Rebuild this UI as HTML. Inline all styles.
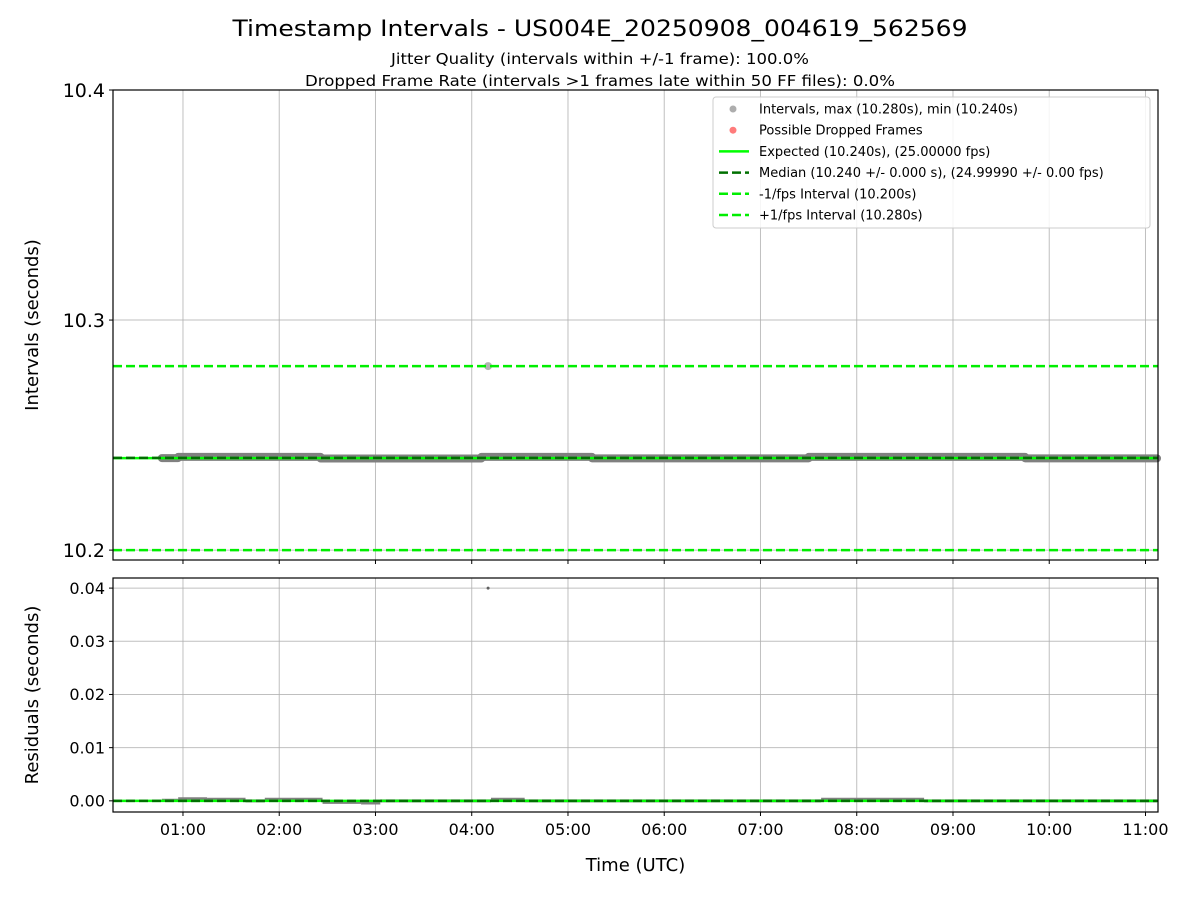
<!DOCTYPE html>
<html><head><meta charset="utf-8"><style>
body{margin:0;background:#fff}
svg{display:block;font-family:"DejaVu Sans","Liberation Sans",sans-serif}
</style></head><body>
<svg id="c" width="1200" height="900" xmlns="http://www.w3.org/2000/svg">
<text x="600" y="36" font-size="22" text-anchor="middle" textLength="735" lengthAdjust="spacingAndGlyphs">Timestamp Intervals - US004E_20250908_004619_562569</text>
<text x="600" y="64" font-size="15" text-anchor="middle" textLength="418" lengthAdjust="spacingAndGlyphs">Jitter Quality (intervals within +/-1 frame): 100.0%</text>
<text x="600" y="86" font-size="15" text-anchor="middle" textLength="590" lengthAdjust="spacingAndGlyphs">Dropped Frame Rate (intervals &gt;1 frames late within 50 FF files): 0.0%</text>
<g id="topg"></g><g id="botg"></g>
</svg>
<script>
// data (hours UTC)
const xTicks = [1,2,3,4,5,6,7,8,9,10,11];
const xTickLabels = ["01:00","02:00","03:00","04:00","05:00","06:00","07:00","08:00","09:00","10:00","11:00"];
const topYTicks = [10.2,10.3,10.4];
const botYTicks = [0,0.01,0.02,0.03,0.04];
const segStart = [0.78,0.95,2.43,4.10,5.25,7.50,9.75];
const segEnd   = [0.95,2.43,4.10,5.25,7.50,9.75,11.12];
const segValue = [10.2400,10.2405,10.2398,10.2405,10.2399,10.2405,10.2399];
const outlierTime = [4.17];
const outlierValue = [10.280];
const resStart = [0.78,0.95,1.25,1.65,1.85,2.45,2.85,3.05,4.20,4.55,7.63,8.70];
const resEnd   = [0.95,1.25,1.65,1.85,2.45,2.85,3.05,4.20,4.55,7.63,8.70,11.12];
const resValue = [0.0001,0.0004,0.0003,0.0000,0.0003,-0.0003,-0.0004,0.0000,0.0003,0.0000,0.0003,0.0000];
const resOutT = [4.17];
const resOutV = [0.040];
const expected = 10.240, median = 10.2401, minusFps = 10.200, plusFps = 10.280;

const NS="http://www.w3.org/2000/svg";
function mk(par,tag,attrs){const e=document.createElementNS(NS,tag);for(const k in attrs)e.setAttribute(k,attrs[k]);par.appendChild(e);return e;}
const X0=113,X1=1158, xmin=0.273, xmax=11.13;
const xs=h=>X0+(h-xmin)/(xmax-xmin)*(X1-X0);
const T={y0:90,y1:560,min:10.1957,max:10.4};
const ysT=v=>T.y1-(v-T.min)/(T.max-T.min)*(T.y1-T.y0);
const B={y0:578,y1:812,min:-0.0021,max:0.0419};
const ysB=v=>B.y1-(v-B.min)/(B.max-B.min)*(B.y1-B.y0);

function panel(g,P,ys,yt,ylabel,fmt,fs,showX,name){
  yt.forEach(v=>{const l=mk(g,'line',{x1:X0,x2:X1,y1:ys(v),y2:ys(v),stroke:'#b0b0b0','stroke-width':1,opacity:0.8});
    
    });
  xTicks.forEach(h=>{const l=mk(g,'line',{x1:xs(h),x2:xs(h),y1:P.y0,y2:P.y1,stroke:'#b0b0b0','stroke-width':1,opacity:0.8});
    
    });
  yt.forEach(v=>{mk(g,'line',{x1:X0-4,x2:X0,y1:ys(v),y2:ys(v),stroke:'#000'});
    const t=mk(g,'text',{x:X0-8,y:ys(v)+fs*0.36,'font-size':fs,'text-anchor':'end'});t.textContent=fmt(v);
    
    });
  xTicks.forEach((h,i)=>{mk(g,'line',{x1:xs(h),x2:xs(h),y1:P.y1,y2:P.y1+4,stroke:'#000'});
    if(showX){const t=mk(g,'text',{x:xs(h),y:P.y1+23,'font-size':16,'text-anchor':'middle'});t.textContent=xTickLabels[i];
    
    }});
  const yl=mk(g,'text',{x:0,y:0,'font-size':18,'text-anchor':'middle',transform:`translate(38,${(P.y0+P.y1)/2}) rotate(-90)`});
  yl.textContent=ylabel;
  
  
}
const topG=document.getElementById('topg'), botG=document.getElementById('botg');
panel(topG,T,ysT,topYTicks,'Intervals (seconds)',v=>v.toFixed(1),19,false,'top');
panel(botG,B,ysB,botYTicks,'Residuals (seconds)',v=>v.toFixed(2),16,true,'bottom');

segStart.forEach((s,i)=>{const l=mk(topG,'line',{x1:xs(s),x2:xs(segEnd[i]),y1:ysT(segValue[i]),y2:ysT(segValue[i]),stroke:'#808080','stroke-width':8,'stroke-linecap':'round'});
  
  });
outlierTime.forEach((t,i)=>{const c=mk(topG,'circle',{cx:xs(t),cy:ysT(outlierValue[i]),r:4,fill:'#808080',opacity:0.6});
  
  });
function hl(g,y,col,dash,w,nm){const l=mk(g,'line',{x1:X0,x2:X1,y1:y,y2:y,stroke:col,'stroke-width':w});if(dash)l.setAttribute('stroke-dasharray',dash);
  
  }
hl(topG,ysT(expected),'#00ff00',null,2.5,'expected-line');
hl(topG,ysT(median),'#007000','9,4',2.5,'median-line');
hl(topG,ysT(minusFps),'#00ee00','9,4',2.5,'minus-fps-line');
hl(topG,ysT(plusFps),'#00ee00','9,4',2.5,'plus-fps-line');
resStart.forEach((s,i)=>{const l=mk(botG,'line',{x1:xs(s),x2:xs(resEnd[i]),y1:ysB(resValue[i]),y2:ysB(resValue[i]),stroke:'#808080','stroke-width':3});
  
  });
resOutT.forEach((t,i)=>{const c=mk(botG,'circle',{cx:xs(t),cy:ysB(resOutV[i]),r:1.5,fill:'#606060'});
  
  });
hl(botG,ysB(0),'#00ff00',null,2.5,'residual-zero-line');
hl(botG,ysB(0),'#007000','9,4',2.5,'residual-median-line');

[[topG,T,'top-frame'],[botG,B,'bottom-frame']].forEach(([g,P,n])=>{const r=mk(g,'rect',{x:X0,y:P.y0,width:X1-X0,height:P.y1-P.y0,fill:'none',stroke:'#000','stroke-width':1.2});
  
  });
const xt=mk(botG,'text',{x:(X0+X1)/2,y:871,'font-size':18,'text-anchor':'middle'});xt.textContent='Time (UTC)';



const lg=mk(topG,'g',{});


mk(lg,'rect',{x:713,y:97,width:437,height:131,rx:3,fill:'#fff','fill-opacity':0.85,stroke:'#ccc'});
const items=[['dot','#999','Intervals, max (10.280s), min (10.240s)'],['dot','#ff5a5a','Possible Dropped Frames'],
 ['line','#00ff00','Expected (10.240s), (25.00000 fps)'],['dash','#007000','Median (10.240 +/- 0.000 s), (24.99990 +/- 0.00 fps)'],
 ['dash','#00ee00','-1/fps Interval (10.200s)'],['dash','#00ee00','+1/fps Interval (10.280s)']];
items.forEach((it,i)=>{const y=109+i*21.2;
  if(it[0]=='dot')mk(lg,'circle',{cx:733,cy:y,r:3.5,fill:it[1],opacity:0.8});
  else{const l=mk(lg,'line',{x1:719,x2:749,y1:y,y2:y,stroke:it[1],'stroke-width':2.5});if(it[0]=='dash')l.setAttribute('stroke-dasharray','9,4');}
  const t=mk(lg,'text',{x:759,y:y+4.5,'font-size':13});t.textContent=it[2];
  
  });
</script>
</body></html>
